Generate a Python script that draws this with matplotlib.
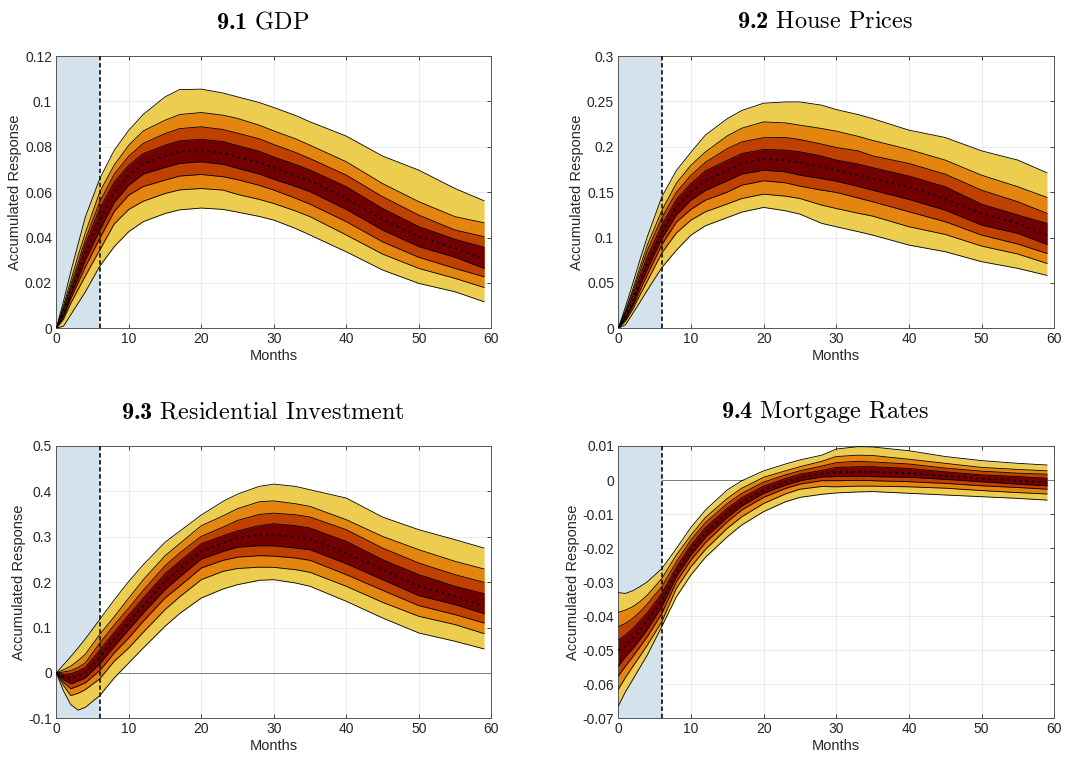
import numpy as np
import matplotlib
matplotlib.use("Agg")
import matplotlib.pyplot as plt
from matplotlib.ticker import FormatStrFormatter

plt.rcParams["font.family"] = ["Liberation Sans", "DejaVu Sans"]
plt.rcParams["mathtext.fontset"] = "custom"
plt.rcParams["mathtext.rm"] = "cmr10"
plt.rcParams["mathtext.bf"] = "cmb10"
plt.rcParams["axes.unicode_minus"] = False

# horizon (months) at which the posterior percentiles are stored
months = [0, 1, 2, 3, 4, 6, 8, 10, 12, 15, 17, 20, 23, 25, 28, 30, 33, 35, 40, 45, 50, 55, 59]

# 9.1 GDP: hi4/lo4 outer band ... hi1/lo1 inner band, med = median
gdp_hi4 = [0, .012, .025, .037, .049, .066, .0785, .0873, .0943, .102, .1052, .1054, .1037, .102, .0995, .0973, .0938, .091, .0847, .0759, .0697, .0616, .0562]
gdp_hi3 = [0, .010, .021, .032, .042, .0602, .072, .0807, .087, .0917, .0942, .0951, .0939, .0925, .0895, .087, .0835, .0807, .0734, .0638, .0558, .0492, .0465]
gdp_hi2 = [0, .009, .019, .029, .039, .0558, .068, .0759, .0815, .0858, .0880, .0888, .0876, .086, .0835, .081, .0775, .0748, .0675, .058, .0499, .0433, .0404]
gdp_hi1 = [0, .008, .0175, .027, .037, .0528, .0645, .0719, .077, .0807, .0826, .0833, .0823, .0805, .078, .0755, .0722, .0697, .0624, .0528, .0448, .0392, .0357]
gdp_med = [0, .007, .016, .0245, .033, .0477, .060, .0675, .0725, .0759, .0778, .0785, .0773, .0755, .073, .0708, .0673, .0649, .0572, .048, .0404, .0352, .0308]
gdp_lo1 = [0, .006, .0145, .022, .030, .0433, .0555, .0631, .068, .0709, .0727, .0734, .0723, .0705, .068, .0657, .0625, .0602, .0524, .0433, .036, .0313, .0264]
gdp_lo2 = [0, .005, .013, .020, .027, .0396, .0515, .0587, .0625, .0653, .0671, .0678, .0668, .0655, .063, .0609, .0573, .0547, .047, .0381, .0313, .0264, .0227]
gdp_lo3 = [0, .004, .011, .017, .023, .0345, .046, .0524, .056, .0594, .0610, .0616, .0609, .059, .0568, .055, .0517, .0492, .0411, .0327, .0264, .022, .018]
gdp_lo4 = [0, .001, .006, .011, .016, .0274, .036, .0426, .047, .0506, .0522, .053, .0524, .0512, .0493, .0477, .0440, .0411, .0337, .0257, .0198, .0161, .0117]

# 9.2 House Prices
hp_hi4 = [0, .024, .0495, .076, .101, .145, .174, .194, .213, .231, .240, .248, .2494, .2494, .2458, .241, .2355, .231, .2183, .2102, .1955, .1853, .1713]
hp_hi3 = [0, .020, .043, .068, .092, .130, .160, .1797, .1944, .2120, .2205, .2274, .2263, .2238, .2201, .2172, .2115, .207, .197, .1853, .1687, .1559, .1442]
hp_hi2 = [0, .018, .040, .063, .086, .122, .150, .1687, .183, .198, .2054, .210, .2102, .208, .2029, .1992, .1955, .190, .1816, .1698, .1522, .1394, .1266]
hp_hi1 = [0, .016, .036, .058, .079, .114, .142, .1596, .1735, .185, .1926, .197, .1963, .1944, .1897, .1853, .181, .177, .1677, .1559, .1368, .1247, .1156]
hp_med = [0, .014, .031, .052, .0715, .106, .134, .1504, .1625, .174, .1816, .1867, .1852, .1823, .178, .1742, .1685, .165, .156, .1423, .1266, .1156, .1027]
hp_lo1 = [0, .012, .027, .047, .065, .099, .125, .1412, .152, .1625, .170, .1742, .1724, .1687, .165, .1621, .1563, .1522, .142, .1302, .1137, .1045, .0924]
hp_lo2 = [0, .010, .024, .042, .059, .092, .117, .131, .1412, .150, .1577, .1625, .1603, .1566, .1522, .1497, .1436, .1394, .1284, .1174, .1027, .0928, .0825]
hp_lo3 = [0, .008, .021, .037, .052, .083, .105, .1192, .1284, .1370, .143, .1478, .1456, .143, .1357, .132, .1268, .1236, .1119, .1034, .0906, .0818, .0715]
hp_lo4 = [0, .004, .0165, .029, .042, .067, .086, .1027, .113, .122, .128, .1332, .1295, .1258, .1156, .1119, .1065, .1027, .0917, .0844, .0734, .066, .0583]

# 9.3 Residential Investment
ri_hi4 = [0, .018, .036, .055, .075, .118, .161, .2018, .2385, .288, .312, .348, .378, .394, .411, .416, .4109, .4035, .3852, .3434, .3155, .2935, .2751]
ri_hi3 = [0, .007, .015, .027, .041, .085, .124, .165, .2054, .258, .2847, .3243, .346, .362, .3771, .379, .3727, .3668, .3375, .3008, .2715, .2458, .2289]
ri_hi2 = [0, .002, .005, .012, .022, .066, .106, .143, .182, .236, .264, .3008, .3213, .336, .3492, .352, .3485, .3434, .3155, .275, .2421, .2164, .1996]
ri_hi1 = [0, -.003, -.002, .004, .012, .050, .0895, .128, .165, .2186, .2458, .2847, .3023, .313, .3243, .3287, .3243, .3191, .2898, .2494, .2164, .1908, .1746]
ri_med = [0, -.009, -.013, -.007, 0, .035, .0748, .1115, .148, .2018, .229, .2678, .2861, .2971, .3045, .3045, .2993, .295, .2641, .2274, .1908, .1687, .1467]
ri_lo1 = [0, -.015, -.024, -.018, -.011, .020, .0587, .0954, .132, .1834, .2113, .2509, .2678, .2770, .2803, .28, .2751, .2715, .2406, .2054, .1702, .1504, .1306]
ri_lo2 = [0, -.021, -.035, -.029, -.022, .005, .044, .077, .1137, .165, .1908, .2311, .248, .2550, .2583, .2573, .2531, .248, .2164, .182, .1482, .1284, .110]
ri_lo3 = [0, -.028, -.05, -.045, -.037, -.013, .0257, .055, .0895, .1394, .1673, .2054, .2238, .2300, .2330, .2326, .2274, .2216, .1908, .1555, .1247, .1064, .0866]
ri_lo4 = [0, -.04, -.07, -.082, -.076, -.05, -.011, .022, .055, .1027, .1306, .165, .1849, .1944, .2040, .2054, .1981, .1908, .1577, .121, .088, .0697, .0528]

# 9.4 Mortgage Rates
mr_hi4 = [-.0331, -.0333, -.0325, -.0313, -.0299, -.026, -.0201, -.0139, -.0088, -.0029, -.0002, .0027, .0047, .0059, .0073, .0091, .0098, .0097, .0086, .0069, .0057, .0049, .0044]
mr_hi3 = [-.0389, -.0382, -.0372, -.0357, -.0338, -.0289, -.022, -.0162, -.011, -.0054, -.0024, .0008, .0027, .0039, .0055, .0069, .0073, .0072, .0061, .0049, .0037, .0031, .0027]
mr_hi2 = [-.0431, -.0421, -.0406, -.0387, -.0364, -.0313, -.024, -.0176, -.0125, -.0069, -.0039, -.0006, .0015, .0027, .0041, .0051, .0055, .0053, .0047, .0035, .0026, .002, .0017]
mr_hi1 = [-.047, -.0455, -.0436, -.0413, -.039, -.0333, -.0255, -.0191, -.0139, -.0083, -.0052, -.0018, .0004, .0017, .0028, .0037, .0039, .0039, .0034, .0024, .0015, .001, .0005]
mr_med = [-.050, -.0488, -.0465, -.0441, -.0414, -.0353, -.0269, -.0206, -.0154, -.0096, -.0065, -.0029, -.0006, .0007, .0019, .0022, .0024, .0024, .002, .0012, .0004, -.0002, -.0008]
mr_lo1 = [-.0547, -.0519, -.0495, -.0468, -.0439, -.0372, -.0284, -.022, -.0168, -.011, -.0076, -.0039, -.0015, -.0002, .0009, .001, .0011, .001, .0008, .0002, -.0005, -.0012, -.0017]
mr_lo2 = [-.0576, -.0547, -.0519, -.049, -.046, -.0392, -.0299, -.0235, -.0184, -.0123, -.0088, -.0051, -.0025, -.0012, -.0002, -.0002, -.0001, -.0002, -.0005, -.001, -.0017, -.0022, -.0027]
mr_lo3 = [-.0615, -.058, -.0548, -.0517, -.0485, -.0416, -.0318, -.0255, -.0204, -.0142, -.0108, -.0069, -.0041, -.0027, -.0019, -.002, -.0018, -.0018, -.002, -.0024, -.0031, -.0037, -.0041]
mr_lo4 = [-.0664, -.0622, -.0586, -.055, -.0514, -.043, -.0343, -.0279, -.0227, -.0167, -.0132, -.0093, -.0064, -.0051, -.0042, -.0038, -.0035, -.0034, -.0039, -.0044, -.0049, -.0054, -.0059]

band_colors = ["#EDCD50", "#E3850F", "#C04000", "#720000"]  # outer -> inner
shock_end = 6


def fan_panel(ax, title, bands, med, yticks, zero_line):
    ax.set_axisbelow(True)
    ax.grid(True, color="#E8E8E8", linewidth=0.6)
    if zero_line:
        ax.axhline(0, color="#7A7A7A", linewidth=0.7, zorder=1)
    ax.axvspan(0, shock_end, color="#D4E2EE", linewidth=0, zorder=1.5)

    for (lo, hi), col in zip(bands, band_colors):
        ax.fill_between(months, lo, hi, color=col, linewidth=0, zorder=2)
    for lo, hi in bands:
        ax.plot(months, lo, color="black", linewidth=0.6, zorder=3)
        ax.plot(months, hi, color="black", linewidth=0.6, zorder=3)
    ax.plot(months, med, color="black", linewidth=1.4,
            linestyle=(0, (1, 2.2)), zorder=4)
    ax.axvline(shock_end, color="#1A1A1A", linewidth=1.3,
               linestyle=(0, (2.4, 1.5)), zorder=5)

    ax.set_xlim(0, 60)
    ax.set_xticks(range(0, 61, 10))
    ax.set_ylim(yticks[0], yticks[-1])
    ax.set_yticks(yticks)
    ax.yaxis.set_major_formatter(FormatStrFormatter("%g"))
    ax.tick_params(direction="in", length=3, width=0.6, top=True, right=True,
                   labelsize=10, colors="#262626", pad=3)
    for sp in ax.spines.values():
        sp.set_color("#555555")
        sp.set_linewidth(0.7)
    ax.set_xlabel("Months", fontsize=10.5, color="#262626", labelpad=2)
    ax.set_ylabel("Accumulated Response", fontsize=10.5, color="#262626", labelpad=2)
    ax.set_title(title, fontsize=17.5, pad=20, x=0.475)


fig = plt.figure(figsize=(10.66, 7.63), dpi=100)
ax1 = fig.add_axes([0.0528, 0.5697, 0.4081, 0.3569])
ax2 = fig.add_axes([0.5800, 0.5697, 0.4090, 0.3569])
ax3 = fig.add_axes([0.0528, 0.0586, 0.4081, 0.3569])
ax4 = fig.add_axes([0.5800, 0.0586, 0.4090, 0.3569])

fan_panel(ax1, r"$\mathbf{9.1}\ \mathrm{GDP}$",
          [(gdp_lo4, gdp_hi4), (gdp_lo3, gdp_hi3), (gdp_lo2, gdp_hi2), (gdp_lo1, gdp_hi1)],
          gdp_med, np.round(np.arange(0, 0.121, 0.02), 2), False)
fan_panel(ax2, r"$\mathbf{9.2}\ \mathrm{House\ Prices}$",
          [(hp_lo4, hp_hi4), (hp_lo3, hp_hi3), (hp_lo2, hp_hi2), (hp_lo1, hp_hi1)],
          hp_med, np.round(np.arange(0, 0.301, 0.05), 2), False)
fan_panel(ax3, r"$\mathbf{9.3}\ \mathrm{Residential\ Investment}$",
          [(ri_lo4, ri_hi4), (ri_lo3, ri_hi3), (ri_lo2, ri_hi2), (ri_lo1, ri_hi1)],
          ri_med, np.round(np.arange(-0.1, 0.501, 0.1), 1), True)
fan_panel(ax4, r"$\mathbf{9.4}\ \mathrm{Mortgage\ Rates}$",
          [(mr_lo4, mr_hi4), (mr_lo3, mr_hi3), (mr_lo2, mr_hi2), (mr_lo1, mr_hi1)],
          mr_med, np.round(np.arange(-0.07, 0.0101, 0.01), 2), True)

fig.savefig("out.png", dpi=100)
